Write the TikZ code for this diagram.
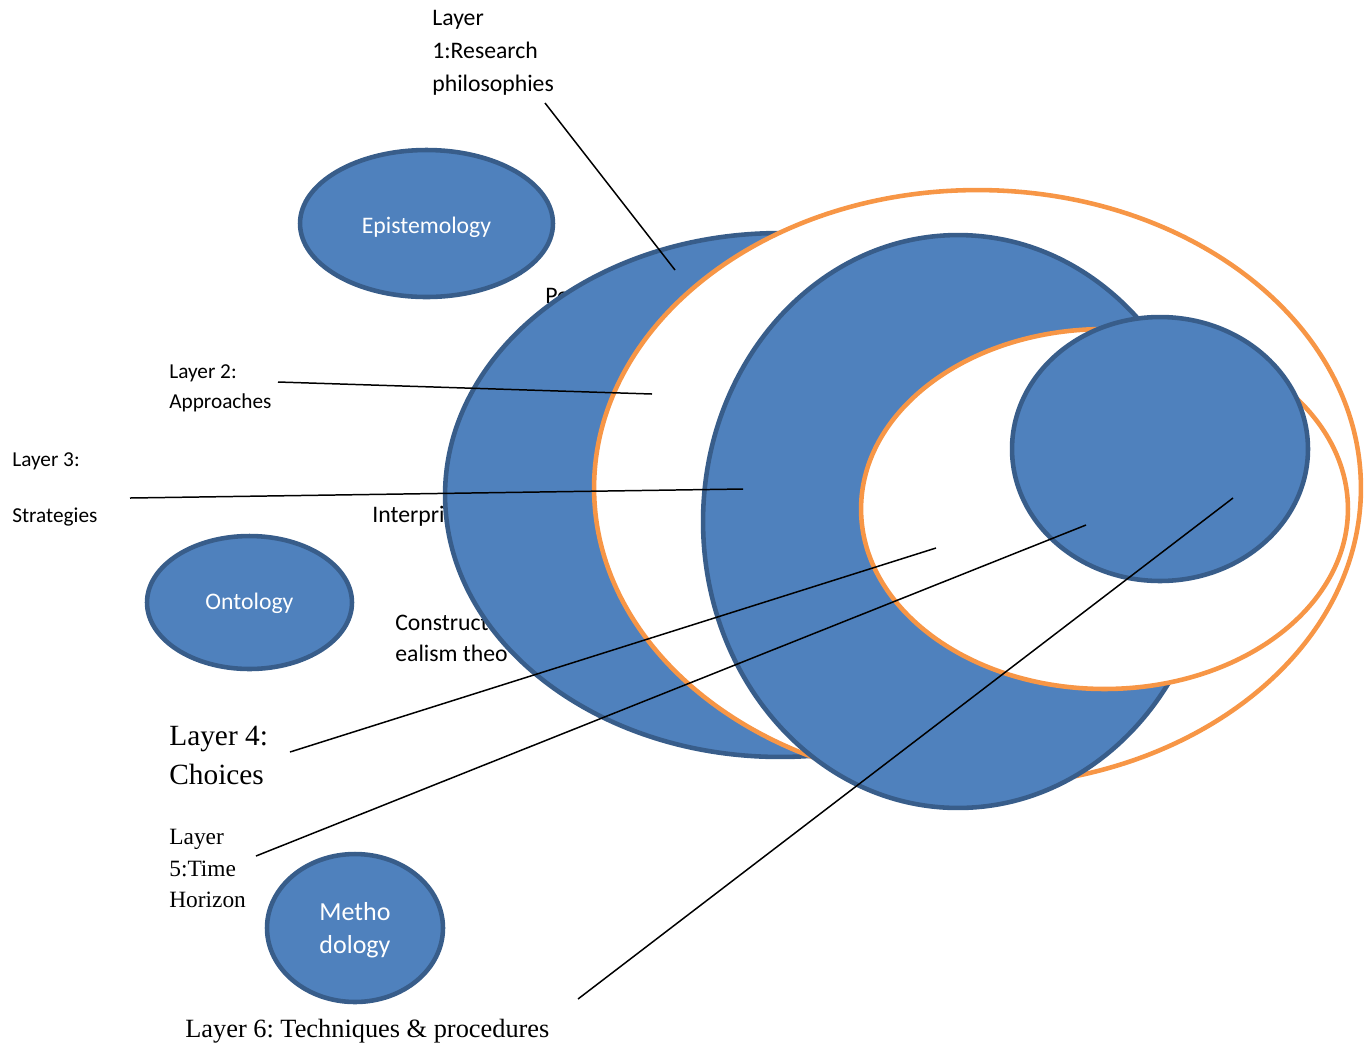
\documentclass[tikz,border=0pt]{standalone}
\usepackage{fontspec}
\setmainfont{Carlito}
\newfontfamily\timesfont{Liberation Serif}
\usetikzlibrary{shapes.geometric}
\definecolor{ringblue}{HTML}{4F81BD}
\definecolor{ringedge}{HTML}{385D8A}
\definecolor{ringorange}{HTML}{F79646}
\frenchspacing
\begin{document}
\begin{tikzpicture}[x=0.02cm, y=-0.02cm,
  blueoval/.style={ellipse, draw=ringedge, fill=ringblue, line width=2.6pt, inner sep=0pt},
  orangeoval/.style={ellipse, draw=ringorange, fill=white, line width=2.6pt, inner sep=0pt},
  ovaltext/.style={text=white, align=center},
  lbl/.style={anchor=base west, inner sep=0pt},
  sansA/.style={font=\fontsize{13.5}{16}\selectfont},
  sansB/.style={font=\fontsize{12.1}{14}\selectfont},
  serifA/.style={font=\timesfont\fontsize{16.7}{20}\selectfont},
  serifB/.style={font=\timesfont\fontsize{13.3}{16}\selectfont},
  serifC/.style={font=\timesfont\fontsize{15}{18}\selectfont},
  leader/.style={draw=black, line width=0.85pt}]
\useasboundingbox (0,0) rectangle (1372,1046);

% paradigm words, partly hidden by the outer ring
\node[lbl, sansA] (pos) at (545,303) {Po};
\node[lbl, sansA] (interp) at (372,522) {Interpri};
\node[lbl, sansA] (constr) at (395,630) {Construct};
\node[lbl, sansA] (realism) at (395,661) {ealism theo};

% the nested onion rings
\node[blueoval, minimum width=13.4cm, minimum height=10.48cm] (ring1) at (780,495) {};
\node[orangeoval, minimum width=15.34cm, minimum height=11.92cm] (ring2) at (977.5,488) {};
\node[blueoval, minimum width=10.2cm, minimum height=11.46cm] (ring3) at (958,521.5) {};
\node[orangeoval, minimum width=9.74cm, minimum height=7.2cm] (ring4) at (1104.5,509) {};
\node[blueoval, minimum width=5.92cm, minimum height=5.28cm] (ring5) at (1160,449) {};

% philosophy ovals
\node[blueoval, minimum width=5.06cm, minimum height=2.94cm] (epist) at (426.5,223.5) {};
\node[ovaltext, sansA] at (426.5,227) {Epistemology};
\node[blueoval, minimum width=4.1cm, minimum height=2.66cm] (onto) at (249.5,602.5) {};
\node[ovaltext, sansA] at (249.5,603) {Ontology};
\node[blueoval, minimum width=3.52cm, minimum height=2.96cm] (metho) at (355,928) {};
\node[ovaltext, font=\fontsize{14.8}{18.7}\selectfont] at (355,930) {Metho\\dology};

% layer captions
\node[lbl, sansA] (l1a) at (432,25) {Layer};
\node[lbl, sansA] (l1b) at (432,58) {1:Research};
\node[lbl, sansA] (l1c) at (432,91) {philosophies};
\node[lbl, sansB] (l2a) at (169,378) {Layer 2:};
\node[lbl, sansB] (l2b) at (169,408) {Approaches};
\node[lbl, sansB] (l3a) at (12,466) {Layer 3:};
\node[lbl, sansB] (l3b) at (12,522) {Strategies};
\node[lbl, serifA] (l4a) at (169,745) {Layer 4:};
\node[lbl, serifA] (l4b) at (169,784) {Choices};
\node[lbl, serifB] (l5a) at (169,844) {Layer};
\node[lbl, serifB] (l5b) at (169,876) {5:Time};
\node[lbl, serifB] (l5c) at (169,907) {Horizon};
\node[lbl, serifC] (l6) at (185,1037) {Layer 6: Techniques \& procedures};

% leader line ends
\coordinate (s1) at (545,103);  \coordinate (e1) at (675,270);
\coordinate (s2) at (278,382);  \coordinate (e2) at (652,394);
\coordinate (s3) at (130,498);  \coordinate (e3) at (743,489);
\coordinate (s4) at (290,752);  \coordinate (e4) at (936,548);
\coordinate (s5) at (256,856);  \coordinate (e5) at (1086,525);
\coordinate (s6) at (578,999);  \coordinate (e6) at (1233,498);

\draw[leader] (s1) -- (e1);
\draw[leader] (s2) -- (e2);
\draw[leader] (s3) -- (e3);
\draw[leader] (s4) -- (e4);
\draw[leader] (s5) -- (e5);
\draw[leader] (s6) -- (e6);
\end{tikzpicture}
\end{document}
